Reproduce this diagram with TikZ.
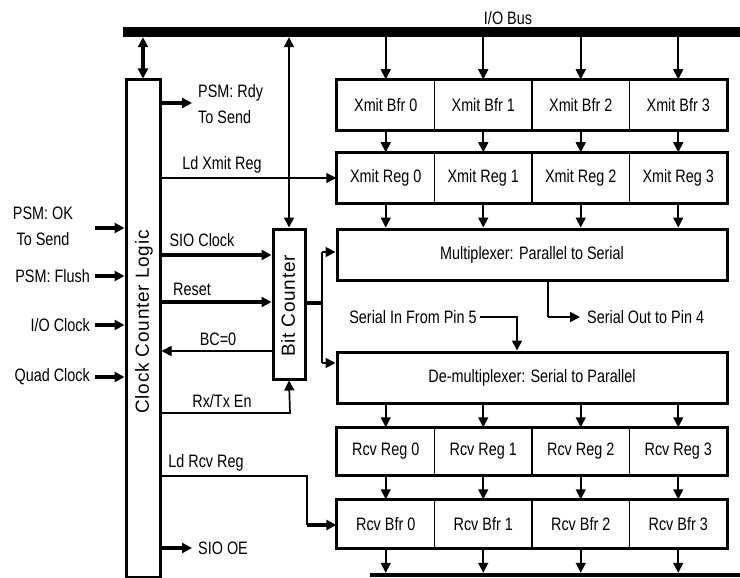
\documentclass[tikz,border=0pt]{standalone}
\usepackage{fontspec}
\setmainfont[FakeStretch=0.8]{Liberation Sans}
\newfontfamily\rotfont[LetterSpace=4]{Liberation Sans}
\usetikzlibrary{arrows.meta}
\tikzset{
  txt/.style={inner sep=0pt, font=\fontsize{18}{26}\selectfont},
  rottxt/.style={inner sep=0pt, rotate=90, font=\rotfont\fontsize{19}{22}\selectfont},
  cell/.style={draw, line width=1.5pt, minimum width=97.5pt, inner sep=0pt, font=\fontsize{18}{20}\selectfont},
  wide/.style={draw, line width=3pt, minimum width=390pt, minimum height=51pt, inner sep=0pt, font=\fontsize{18}{20}\selectfont},
  tall/.style={draw, line width=3pt, inner sep=0pt},
  thk/.style={line width=3.2pt},
  thn/.style={line width=1.7pt},
  arr/.style={-{Triangle[length=10pt,width=10pt]}},
  darr/.style={{Triangle[length=10pt,width=10pt]}-{Triangle[length=10pt,width=10pt]}},
  outer/.style={line width=3pt},
}
\begin{document}
\begin{tikzpicture}[x=1pt,y=-1pt]
\useasboundingbox (0,0) rectangle (740,578);
% buses
\node[fill=black, minimum width=617pt, minimum height=10pt, inner sep=0pt] (topbus) at (431.5,32) {};
\node[txt] (buslbl) at (508,18) {I/O Bus};
\node[fill=black, minimum width=370pt, minimum height=4pt, inner sep=0pt] (botbus) at (555,575) {};
% register rows
\foreach \i/\x in {0/385.75,1/483.25,2/580.75,3/678.25}{
  \node[cell, minimum height=50pt] (xb\i) at (\x,105) {Xmit Bfr \i};
  \node[cell, minimum height=50pt] (xr\i) at (\x,178) {Xmit Reg \i};
  \node[cell, minimum height=47pt] (rr\i) at (\x,451.5) {Rcv Reg \i};
  \node[cell, minimum height=48pt] (rb\i) at (\x,524) {Rcv Bfr \i};
}
\draw[outer] (xb0.north west) rectangle (xb3.south east);
\draw[outer] (xr0.north west) rectangle (xr3.south east);
\draw[outer] (rr0.north west) rectangle (rr3.south east);
\draw[outer] (rb0.north west) rectangle (rb3.south east);
\node[wide] (mux) at (532,254.5) {Multiplexer: Parallel to Serial};
\node[wide] (dmx) at (532,377.5) {De-multiplexer: Serial to Parallel};
% vertical data arrows
\foreach \i in {0,1,2,3}{
  \draw[thn,arr] (xb\i.north |- topbus.south) -- (xb\i.north);
  \draw[thn,arr] (xb\i.south) -- (xr\i.north);
  \draw[thn,arr] (xr\i.south) -- (xr\i.south |- mux.north);
  \draw[thn,arr] (rr\i.north |- dmx.south) -- (rr\i.north);
  \draw[thn,arr] (rr\i.south) -- (rb\i.north);
  \draw[thn,arr] (rb\i.south) -- (rb\i.south |- botbus.north);
}
% clock counter logic
\node[tall, minimum width=34pt, minimum height=497pt] (ccl) at (143,328.5) {};
\node[rottxt] (ccltxt) at (144,322) {Clock Counter Logic};
\draw[thk,darr] (ccl.north |- topbus.south) -- (ccl.north);
% bit counter
\node[tall, minimum width=32pt, minimum height=150pt] (bc) at (289,304) {};
\node[rottxt] (bctxt) at (288,306) {Bit Counter};
\draw[thn,darr] (bc.north |- topbus.south) -- (bc.north);
% left inputs
\coordinate (i1) at (95,228);
\coordinate (i2) at (95,276);
\coordinate (i3) at (95,325);
\coordinate (i4) at (95,377);
\node[txt, align=center] (l1) at (43,226) {PSM: OK\\To Send};
\node[txt, anchor=east] (l2) at (90,276) {PSM: Flush};
\node[txt, anchor=east] (l3) at (90,325) {I/O Clock};
\node[txt, anchor=east] (l4) at (90,377) {Quad Clock};
\foreach \k in {1,2,3,4}{ \draw[thk,arr] (i\k) -- (i\k -| ccl.west); }
% outputs of clock counter logic
\coordinate (o1) at (192,103);
\draw[thk,arr] (o1 -| ccl.east) -- (o1);
\node[txt, anchor=west, align=left] (rdy) at (198,104) {PSM: Rdy\\To Send};
\draw[thn,arr] (ccl.east |- xr0.west) -- (xr0.west);
\node[txt] (ldx) at (222,165) {Ld Xmit Reg};
\coordinate (sc) at (200,255);
\draw[thk,arr] (sc -| ccl.east) -- (sc -| bc.west);
\node[txt] (sclbl) at (202,240) {SIO Clock};
\coordinate (rs) at (200,302);
\draw[thk,arr] (rs -| ccl.east) -- (rs -| bc.west);
\node[txt] (rslbl) at (192,289) {Reset};
\coordinate (bz) at (200,351);
\draw[thn,arr] (bz -| bc.west) -- (bz -| ccl.east);
\node[txt] (bzlbl) at (218,339) {BC=0};
\coordinate (rx) at (290,413);
\draw[thn,arr] (rx -| ccl.east) -- (rx) -- (bc.south);
\node[txt] (rxlbl) at (222,401) {Rx/Tx En};
\coordinate (lr1) at (307,476);
\coordinate (lr2) at (307,525);
\draw[thn] (lr1 -| ccl.east) -- (lr1) -- (lr2);
\draw[thk,arr] (lr2) -- (lr2 -| rb0.west);
\node[txt] (lrlbl) at (206,463) {Ld Rcv Reg};
\coordinate (oe) at (192,548);
\draw[thk,arr] (oe -| ccl.east) -- (oe);
\node[txt, anchor=west] (oelbl) at (198,548) {SIO OE};
% bit counter outputs
\coordinate (bj) at (322,303);
\coordinate (bm) at (322,252);
\coordinate (bd) at (322,363);
\draw[thk] (bj -| bc.east) -- (bj);
\draw[thn] (bm) -- (bd);
\draw[thn,arr] (bm) -- (bm -| mux.west);
\draw[thn,arr] (bd) -- (bd -| dmx.west);
% serial out
\coordinate (so1) at (548,317);
\coordinate (so2) at (580,317);
\draw[thn] (so1 |- mux.south) -- (so1);
\draw[thn,arr] (so1) -- (so2);
\node[txt, anchor=west] (solbl) at (587,317) {Serial Out to Pin 4};
% serial in
\node[txt] (silbl) at (413,317) {Serial In From Pin 5};
\coordinate (si1) at (517,317);
\draw[thn,arr] (silbl.east) ++(3,0) -- (si1) -- (si1 |- dmx.north);
\end{tikzpicture}
\end{document}
